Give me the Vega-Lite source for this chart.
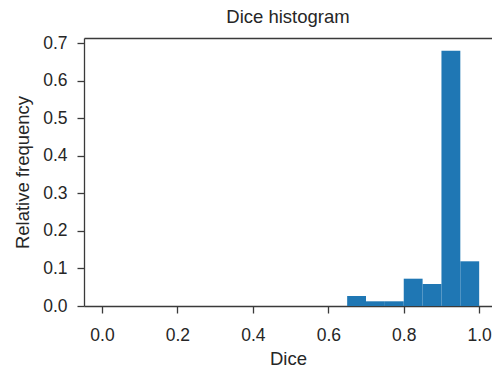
{
  "$schema": "https://vega.github.io/schema/vega-lite/v6.json",
  "autosize": {"type": "none"},
  "width": 408,
  "height": 268,
  "padding": {"left": 84, "top": 38, "right": 0, "bottom": 62},
  "background": "white",
  "title": {
    "text": "Dice histogram",
    "fontSize": 18.5,
    "fontWeight": "normal",
    "font": "Liberation Sans",
    "color": "#262626",
    "baseline": "alphabetic",
    "offset": -7
  },
  "config": {
    "view": {"stroke": null},
    "axis": {
      "labelFont": "Liberation Sans",
      "titleFont": "Liberation Sans",
      "labelFontSize": 17.5,
      "titleFontSize": 18.5,
      "titleFontWeight": "normal",
      "labelColor": "#262626",
      "titleColor": "#262626",
      "domainColor": "#3a3a3a",
      "tickColor": "#3a3a3a",
      "domainWidth": 1.3,
      "tickWidth": 1.3,
      "tickSize": 7,
      "grid": false
    }
  },
  "data": {
    "values": [
      {"bin_start": 0.65, "bin_end": 0.70, "freq": 0.0266},
      {"bin_start": 0.70, "bin_end": 0.75, "freq": 0.0125},
      {"bin_start": 0.75, "bin_end": 0.80, "freq": 0.0125},
      {"bin_start": 0.80, "bin_end": 0.85, "freq": 0.0727},
      {"bin_start": 0.85, "bin_end": 0.90, "freq": 0.0586},
      {"bin_start": 0.90, "bin_end": 0.95, "freq": 0.6795},
      {"bin_start": 0.95, "bin_end": 1.00, "freq": 0.119}
    ]
  },
  "layer": [
    {
      "mark": {"type": "bar", "color": "#1f77b4", "clip": true},
      "encoding": {
        "x": {
          "field": "bin_start",
          "type": "quantitative",
          "scale": {"domain": [-0.0477, 1.034], "nice": false, "zero": false},
          "axis": {
            "title": "Dice",
            "values": [0, 0.2, 0.4, 0.6, 0.8, 1.0],
            "format": ".1f",
            "labelPadding": 13,
            "titlePadding": 6,
            "labelFlush": false
          }
        },
        "x2": {"field": "bin_end"},
        "y": {
          "field": "freq",
          "type": "quantitative",
          "scale": {"domain": [0, 0.7135], "nice": false},
          "axis": {
            "title": "Relative frequency",
            "values": [0, 0.1, 0.2, 0.3, 0.4, 0.5, 0.6, 0.7],
            "format": ".1f",
            "labelPadding": 10,
            "titlePadding": 10,
            "labelFlush": false
          }
        },
        "y2": {"datum": 0}
      }
    },
    {
      "mark": {"type": "tick", "opacity": 0},
      "encoding": {
        "x": {
          "field": "bin_start",
          "type": "quantitative",
          "axis": {"orient": "top", "title": null, "labels": false, "ticks": false}
        }
      }
    }
  ],
  "resolve": {"axis": {"x": "independent"}}
}
